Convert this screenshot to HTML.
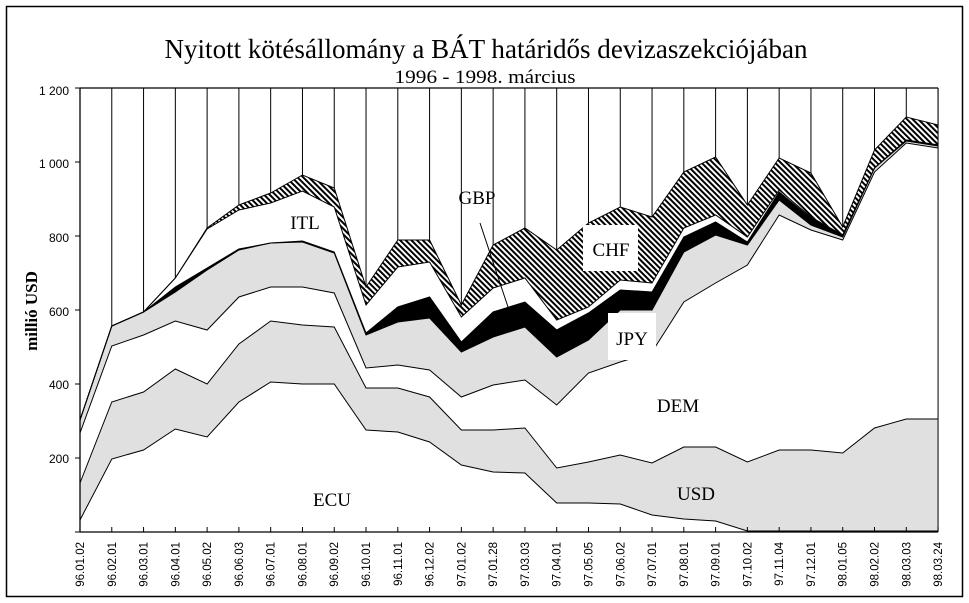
<!DOCTYPE html>
<html><head><meta charset="utf-8"><style>
html,body{margin:0;padding:0;background:#fff;}
svg{display:block;}
</style></head><body>
<svg id="s" width="969" height="603" xmlns="http://www.w3.org/2000/svg">
<defs>
<pattern id="h" width="4" height="4" patternUnits="userSpaceOnUse" patternTransform="rotate(-45)">
<rect width="4" height="4" fill="#fff"/><rect width="2" height="4" fill="#000"/>
</pattern>
</defs>
<rect x="0" y="0" width="969" height="603" fill="#fff"/>
<rect x="6.5" y="6.5" width="956" height="590" fill="none" stroke="#000" stroke-width="1.5"/>
<g id="plot"></g>
<g font-family="Liberation Serif, serif" fill="#000" text-anchor="middle">
<text x="486" y="58" font-size="27" textLength="643" lengthAdjust="spacingAndGlyphs">Nyitott kötésállomány a BÁT határidős devizaszekciójában</text>
<text x="485" y="83" font-size="19" textLength="181" lengthAdjust="spacingAndGlyphs">1996 - 1998. március</text>
<text transform="translate(37,311) rotate(-90)" font-size="17" font-weight="bold">millió USD</text>
</g>
<g font-family="Liberation Sans, sans-serif" font-size="12" text-anchor="end" fill="#000">
<text x="69" y="95">1 200</text>
<text x="69" y="168">1 000</text>
<text x="69" y="242">800</text>
<text x="69" y="316">600</text>
<text x="69" y="389">400</text>
<text x="69" y="463">200</text>
</g>
<g id="xl" font-family="Liberation Sans, sans-serif" font-size="11.5" text-anchor="end" fill="#000"></g>
<g id="lab" font-family="Liberation Serif, serif" font-size="19" fill="#000" text-anchor="middle"></g>
</svg>
<script>
var NS="http://www.w3.org/2000/svg";
var X0=80,DX=31.78;
var ECU=[520,459,450,429,437,402,382,384,384,430,432,442,465,472,473,503,503,504,515,519,521,531,531,531,531,531,531,531];
var USD=[483,402,392,369,384,344,321,325,327,388,388,397,430,430,428,468,462,455,463,447,447,462,450,450,453,428,419,419];
var DEM=[433,346,335,321,330,297,287,287,293,368,365,370,397,385,380,405,373,362,352,302,283,265,215,230,240,172,143,148];
var GRY=[420,326,312,292,270,250,243,242,253,335,322,318,352,337,327,357,340,310,310,252,235,245,200,225,237,168,141,146];
var BLK=[420,326,312,287,268,249,243,241,252,333,307,297,342,312,302,330,313,290,292,237,222,242,192,218,235,168,140,145];
var WHT=[420,326,312,278,229,210,203,191,207,305,267,262,317,288,278,320,307,280,283,228,215,237,190,217,235,168,140,145];
var HAT=[420,326,312,278,228,205,193,175,188,287,240,240,305,245,228,250,223,207,217,172,157,205,158,173,227,150,117,125];
var g=document.getElementById("plot");
function el(n,a,p){var e=document.createElementNS(NS,n);for(var k in a)e.setAttribute(k,a[k]);(p||g).appendChild(e);return e;}
function xs(i){return X0+DX*i;}
function band(lo,hi,fill){var p=[];for(var i=0;i<28;i++)p.push(xs(i)+","+lo[i]);for(var i=27;i>=0;i--)p.push(xs(i)+","+hi[i]);el("polygon",{points:p.join(" "),fill:fill,stroke:"none"});}
band(ECU,USD,"#e0e0e0");
band(DEM,GRY,"#e0e0e0");
band(GRY,BLK,"#000");
band(WHT,HAT,"url(#h)");
[ECU,USD,DEM,GRY,BLK,WHT,HAT].forEach(function(a){var p=[];for(var i=0;i<28;i++)p.push(xs(i)+","+a[i]);el("polyline",{points:p.join(" "),fill:"none",stroke:"#000","stroke-width":1});});
for(var i=1;i<28;i++)el("line",{x1:xs(i),y1:88,x2:xs(i),y2:HAT[i],stroke:"#000","stroke-width":1});
el("line",{x1:80,y1:88,x2:xs(27),y2:88,stroke:"#000","stroke-width":1.3});
el("line",{x1:80,y1:88,x2:80,y2:532,stroke:"#000","stroke-width":1.3});
el("line",{x1:xs(27),y1:88,x2:xs(27),y2:532,stroke:"#000","stroke-width":1});
el("line",{x1:80,y1:532,x2:xs(27),y2:532,stroke:"#000","stroke-width":1.3});
[88,162,236,310,384,458,532].forEach(function(y){el("line",{x1:75,y1:y,x2:80,y2:y,stroke:"#000"});});
var L=["96.01.02","96.02.01","96.03.01","96.04.01","96.05.02","96.06.03","96.07.01","96.08.01","96.09.02","96.10.01","96.11.01","96.12.02","97.01.02","97.01.28","97.03.03","97.04.01","97.05.05","97.06.02","97.07.01","97.08.01","97.09.01","97.10.02","97.11.04","97.12.01","98.01.05","98.02.02","98.03.03","98.03.24"];
var xl=document.getElementById("xl");
for(var i=0;i<28;i++){el("line",{x1:xs(i),y1:527,x2:xs(i),y2:532,stroke:"#000"});
var t=el("text",{transform:"translate("+(xs(i)+4)+",542) rotate(-90)"},xl);t.textContent=L[i];}
el("line",{x1:480,y1:223,x2:508,y2:307,stroke:"#000","stroke-width":1});
el("rect",{x:583,y:225,width:55,height:46,fill:"#fff"});
el("rect",{x:608,y:313,width:48,height:47,fill:"#fff"});
var lab=document.getElementById("lab");
[["ITL",305,229],["GBP",477,204],["CHF",611,256],["JPY",632,345],["DEM",678,412],["USD",696,500],["ECU",332,506]].forEach(function(a){var t=el("text",{x:a[1],y:a[2]},lab);t.textContent=a[0];});
</script>
</body></html>
